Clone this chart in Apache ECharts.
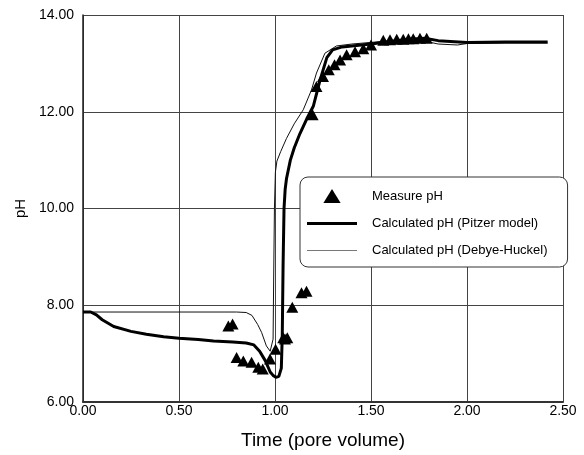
<!DOCTYPE html>
<html>
<head>
<meta charset="utf-8">
<script src="https://cdn.jsdelivr.net/npm/echarts@6/dist/echarts.min.js"></script>
<style>html,body{margin:0;padding:0;background:#fff}#c{width:584px;height:455px}</style>
</head>
<body>
<div id="c"></div>
<script>
var xTicks = [0, 0.5, 1.0, 1.5, 2.0, 2.5];
var yTicks = [6, 8, 10, 12, 14];

var measuredX = [0.757, 0.779, 0.80, 0.835, 0.878, 0.913, 0.936, 0.974, 1.003, 1.043, 1.052, 1.064, 1.09, 1.138, 1.164, 1.196, 1.216, 1.25, 1.28, 1.31, 1.339, 1.373, 1.417, 1.46, 1.50, 1.564, 1.599, 1.634, 1.668, 1.695, 1.72, 1.755, 1.79];
var measuredY = [7.57, 7.61, 6.92, 6.85, 6.82, 6.72, 6.68, 6.89, 7.09, 7.33, 7.30, 7.33, 7.96, 8.26, 8.29, 11.94, 12.52, 12.73, 12.87, 12.97, 13.07, 13.18, 13.24, 13.30, 13.38, 13.48, 13.49, 13.50, 13.50, 13.51, 13.51, 13.52, 13.52];

var pitzerX = [0, 0.04, 0.07, 0.10, 0.16, 0.25, 0.33, 0.42, 0.50, 0.60, 0.68, 0.78, 0.85, 0.89, 0.92, 0.95, 0.975, 0.99, 1.005, 1.02, 1.033, 1.038, 1.042, 1.047, 1.053, 1.06, 1.08, 1.10, 1.13, 1.165, 1.20, 1.235, 1.27, 1.30, 1.35, 1.50, 1.60, 1.70, 1.78, 1.85, 2.00, 2.20, 2.42];
var pitzerY = [7.86, 7.86, 7.80, 7.70, 7.56, 7.46, 7.40, 7.35, 7.32, 7.29, 7.26, 7.24, 7.22, 7.18, 7.05, 6.85, 6.62, 6.55, 6.51, 6.53, 6.70, 7.40, 8.80, 10.00, 10.40, 10.62, 11.00, 11.25, 11.55, 11.85, 12.12, 12.66, 13.12, 13.28, 13.34, 13.40, 13.45, 13.50, 13.52, 13.47, 13.43, 13.44, 13.44];

var debyeX = [0, 0.80, 0.85, 0.88, 0.91, 0.93, 0.955, 0.975, 0.985, 0.99, 0.993, 0.997, 1.002, 1.01, 1.03, 1.06, 1.10, 1.147, 1.19, 1.216, 1.26, 1.32, 1.40, 1.55, 1.70, 1.78, 1.85, 1.95, 2.00, 2.20, 2.42];
var debyeY = [7.86, 7.86, 7.85, 7.79, 7.60, 7.44, 7.16, 7.05, 7.04, 7.30, 8.50, 10.00, 10.75, 10.98, 11.18, 11.45, 11.75, 12.04, 12.45, 12.80, 13.21, 13.36, 13.40, 13.45, 13.47, 13.46, 13.40, 13.38, 13.41, 13.42, 13.42];

function pairs(xs, ys) { return xs.map(function (x, i) { return [x, ys[i]]; }); }

var FONT = 'Liberation Sans, Arial, sans-serif';
var chart = echarts.init(document.getElementById('c'), null, { renderer: 'canvas' });
chart.setOption({
  animation: false,
  backgroundColor: '#fff',
  grid: { left: 83, right: 21, top: 15, bottom: 52, containLabel: false },
  xAxis: {
    type: 'value', min: xTicks[0], max: xTicks[xTicks.length - 1], interval: xTicks[1] - xTicks[0],
    name: 'Time (pore volume)', nameLocation: 'middle', nameGap: 29,
    nameTextStyle: { fontFamily: FONT, fontSize: 19, color: '#000' },
    axisLine: { show: true, lineStyle: { color: '#333', width: 2 } },
    axisTick: { show: false },
    axisLabel: { fontFamily: FONT, fontSize: 14, color: '#000', margin: 2, formatter: function (v) { return v.toFixed(2); } },
    splitLine: { show: true, lineStyle: { color: '#444', width: 1 } }
  },
  yAxis: {
    type: 'value', min: yTicks[0], max: yTicks[yTicks.length - 1], interval: yTicks[1] - yTicks[0],
    name: 'pH', nameLocation: 'middle', nameGap: 55, nameRotate: 90,
    nameTextStyle: { fontFamily: FONT, fontSize: 15, color: '#000' },
    axisLine: { show: true, lineStyle: { color: '#222', width: 1.5 } },
    axisTick: { show: false },
    axisLabel: { fontFamily: FONT, fontSize: 14, color: '#000', margin: 9, formatter: function (v) { return v.toFixed(2); } },
    splitLine: { show: true, lineStyle: { color: '#444', width: 1 } }
  },
  legend: {
    orient: 'vertical', left: 300, top: 177,
    padding: [12, 20, 10, 7],
    itemWidth: 50, itemHeight: 14, itemGap: 14,
    symbolKeepAspect: true,
    borderColor: '#333', borderWidth: 1, borderRadius: 8, backgroundColor: '#fff',
    textStyle: { fontFamily: FONT, fontSize: 13, color: '#000', padding: [0, 0, 0, 10] },
    data: [
      { name: 'Measure pH', icon: 'path://M8,0L16,13L0,13Z', itemStyle: { color: '#000' } },
      { name: 'Calculated pH (Pitzer model)', icon: 'path://M0,0L50,0L50,3L0,3Z', itemStyle: { color: '#000' } },
      { name: 'Calculated pH (Debye-Huckel)', icon: 'path://M0,0L50,0L50,1L0,1Z', itemStyle: { color: '#777' } }
    ]
  },
  series: [
    {
      name: 'Calculated pH (Debye-Huckel)', type: 'line', data: pairs(debyeX, debyeY),
      showSymbol: false, symbol: 'none', lineStyle: { color: '#111', width: 1 }, itemStyle: { color: '#111' }, z: 2
    },
    {
      name: 'Calculated pH (Pitzer model)', type: 'line', data: pairs(pitzerX, pitzerY),
      showSymbol: false, symbol: 'none', lineStyle: { color: '#000', width: 3 }, itemStyle: { color: '#000' }, z: 3
    },
    {
      name: 'Measure pH', type: 'scatter', data: pairs(measuredX, measuredY),
      symbol: 'triangle', symbolSize: [12, 11], itemStyle: { color: '#000', opacity: 1 }, z: 4
    }
  ]
});
</script>
</body>
</html>
